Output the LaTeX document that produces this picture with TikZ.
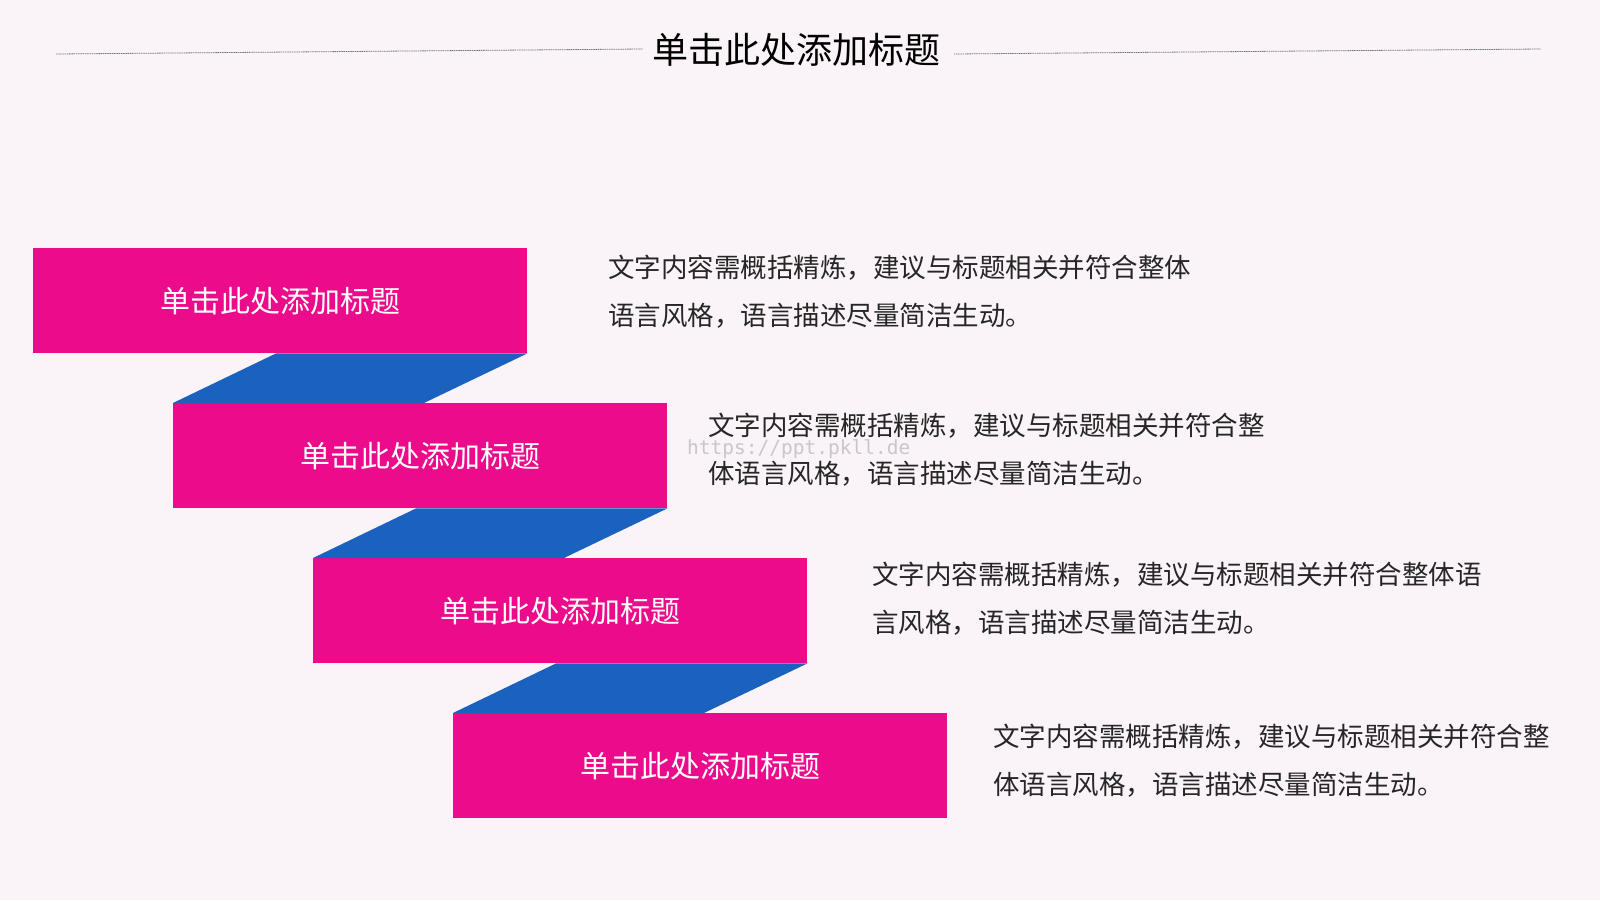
\documentclass[tikz,border=0pt]{standalone}
\usepackage{fontspec}
\newfontfamily\cjk{Noto Sans CJK SC}
\newfontfamily\wmfont{DejaVu Sans Mono}
\usetikzlibrary{calc}
\definecolor{bgc}{RGB}{250,243,247}
\definecolor{boxpink}{RGB}{236,11,139}
\definecolor{ribbonblue}{RGB}{27,98,190}
\definecolor{rulegray}{RGB}{120,120,120}
\definecolor{wmgray}{RGB}{200,200,200}
\tikzset{
  stepbox/.style={fill=boxpink, draw=none, minimum width=494pt, minimum height=105pt,
    inner sep=0pt, anchor=north west, text=white, font=\cjk\fontsize{30}{36}\selectfont},
  ribbon/.style={fill=ribbonblue, draw=none},
  desc/.style={anchor=west, inner sep=0pt, text=black!85, font=\cjk\fontsize{26.5}{32}\selectfont},
  titletext/.style={inner sep=0pt, text=black, font=\cjk\fontsize{36}{42}\selectfont},
  titlerule/.style={draw=rulegray, line width=0.8pt, dash pattern=on 1.2pt off 0.6pt},
}
\begin{document}
\begin{tikzpicture}[x=1pt,y=-1pt]
\fill[bgc] (0,0) rectangle (1600,900);
\useasboundingbox (0,0) rectangle (1600,900);
% title
\node[titletext] (title) at (796,50) {单击此处添加标题};
\coordinate (rl1) at (56,54);
\coordinate (rl2) at (643,49);
\coordinate (rr1) at (954,54);
\coordinate (rr2) at (1541,49);
\draw[titlerule] (rl1) -- (rl2);
\draw[titlerule] (rr1) -- (rr2);
% boxes
\node[stepbox] (box1) at (33,248) {单击此处添加标题};
\node[stepbox] (box2) at (173,403) {单击此处添加标题};
\node[stepbox] (box3) at (313,558) {单击此处添加标题};
\node[stepbox] (box4) at (453,713) {单击此处添加标题};
% ribbons
\foreach \a/\b in {box1/box2, box2/box3, box3/box4}{
  \fill[ribbon] ($(\a.south west)+(243,0)$) -- (\a.south east)
     -- ($(\b.north west)+(251,0)$) -- (\b.north west) -- cycle;
}
% descriptions
\node[desc] (d1a) at (608,268) {文字内容需概括精炼，建议与标题相关并符合整体};
\node[desc] (d1b) at (608,316) {语言风格，语言描述尽量简洁生动。};
\node[desc] (d2a) at (708,426) {文字内容需概括精炼，建议与标题相关并符合整};
\node[desc] (d2b) at (708,474) {体语言风格，语言描述尽量简洁生动。};
\node[desc] (d3a) at (872,575) {文字内容需概括精炼，建议与标题相关并符合整体语};
\node[desc] (d3b) at (872,623) {言风格，语言描述尽量简洁生动。};
\node[desc] (d4a) at (993,737) {文字内容需概括精炼，建议与标题相关并符合整};
\node[desc] (d4b) at (993,785) {体语言风格，语言描述尽量简洁生动。};
% watermark
\node[anchor=west, inner sep=0pt, text=wmgray, font=\wmfont\fontsize{19.5}{22}\selectfont] (wm) at (687,449) {https://ppt.pkll.de};
\end{tikzpicture}
\end{document}
